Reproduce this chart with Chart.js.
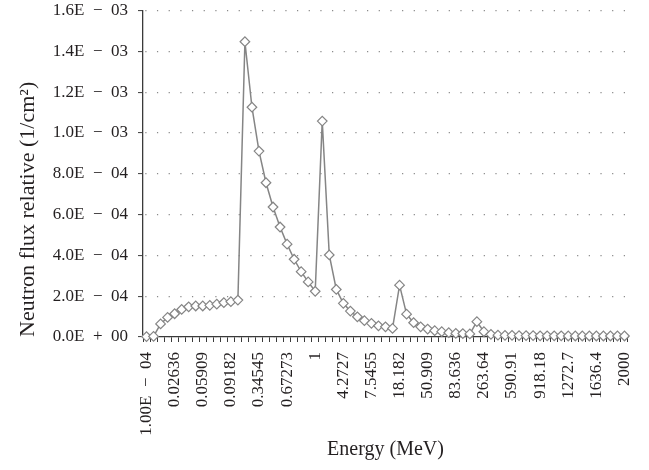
<!DOCTYPE html>
<html lang="en">
<head>
  <meta charset="UTF-8">
  <title>Neutron flux vs energy</title>
  <script src="https://cdn.jsdelivr.net/npm/chart.js"></script>
  <style>
    body { margin: 0; background: #fff; }
    canvas { display: block; }
  </style>
</head>
<body>

<canvas id="fluxChart" width="649" height="470"></canvas>

<script>
// energy bins (MeV), one per point
const energyLabels = [
  '1.00E\u2002\u2212\u200204', '0.001', '0.01', '0.01818', '0.02636', '0.03455', '0.04273', '0.05091',
  '0.05909', '0.06727', '0.07545', '0.08364', '0.09182', '0.1', '0.18182', '0.26364',
  '0.34545', '0.42727', '0.50909', '0.59091', '0.67273', '0.75455', '0.83636', '0.91818',
  '1', '1.8182', '2.6364', '3.4545', '4.2727', '5.0909', '5.9091', '6.7273',
  '7.5455', '8.3636', '9.1818', '10', '18.182', '26.364', '34.545', '42.727',
  '50.909', '59.091', '67.273', '75.455', '83.636', '91.818', '100', '181.82',
  '263.64', '345.45', '427.27', '509.09', '590.91', '672.73', '754.55', '836.36',
  '918.18', '1000', '1090.9', '1181.8', '1272.7', '1363.6', '1454.5', '1545.5',
  '1636.4', '1727.3', '1818.2', '1909.1', '2000'
];

// relative neutron flux (1/cm2)
const fluxValues = [
  0.000002, 0.000003, 0.000064, 0.000096, 0.000114, 0.000135, 0.000148, 0.000152,
  0.000152, 0.000155, 0.000161, 0.000168, 0.000173, 0.000181, 0.001447, 0.001126,
  0.000911, 0.000756, 0.000637, 0.000539, 0.000455, 0.000381, 0.000320, 0.000270,
  0.000224, 0.001058, 0.000402, 0.000233, 0.000165, 0.000127, 0.000099, 0.000080,
  0.000067, 0.000055, 0.000050, 0.000042, 0.000254, 0.000112, 0.000070, 0.000050,
  0.000039, 0.000031, 0.000026, 0.000021, 0.000018, 0.000017, 0.000015, 0.000075,
  0.000026, 0.000013, 0.000009, 0.000008, 0.000008, 0.000007, 0.000007, 0.000007,
  0.000006, 0.000006, 0.000006, 0.000006, 0.000005, 0.000005, 0.000005, 0.000005,
  0.000005, 0.000005, 0.000005, 0.000005, 0.000005
];

const yTickLabels = [
  '0.0E\u2002+\u200200', '2.0E\u2002\u2212\u200204', '4.0E\u2002\u2212\u200204', '6.0E\u2002\u2212\u200204',
  '8.0E\u2002\u2212\u200204', '1.0E\u2002\u2212\u200203', '1.2E\u2002\u2212\u200203', '1.4E\u2002\u2212\u200203',
  '1.6E\u2002\u2212\u200203'
];

const serif = "'Liberation Serif', 'Times New Roman', serif";
const textColor = '#231f20';
const axisColor = '#3a3a3a';
const lineGray = '#858585';

new Chart(document.getElementById('fluxChart'), {
  type: 'line',
  data: {
    labels: energyLabels,
    datasets: [{
      data: fluxValues,
      borderColor: lineGray,
      borderWidth: 1.5,
      tension: 0,
      pointStyle: 'rectRot',
      pointRadius: 4.8,
      pointBorderWidth: 1.2,
      pointBorderColor: lineGray,
      pointBackgroundColor: '#fff',
      clip: false
    }]
  },
  options: {
    responsive: false,
    animation: false,
    layout: { padding: { top: 10.5, right: 21, left: 0, bottom: 0 } },
    plugins: { legend: { display: false }, tooltip: { enabled: false } },
    scales: {
      x: {
        offset: true,
        grid: { offset: true, drawOnChartArea: false, tickLength: 5, tickColor: axisColor, tickWidth: 1 },
        border: { color: axisColor, width: 1.3 },
        ticks: {
          autoSkip: false, minRotation: 90, maxRotation: 90, padding: 10,
          color: textColor, font: { family: serif, size: 17 },
          callback: (v, i) => (i % 4 === 0 ? energyLabels[i] : '')
        },
        title: {
          display: true, text: 'Energy (MeV)', color: textColor,
          font: { family: serif, size: 20 }, padding: { top: 0, bottom: 8 }
        },
        afterFit: s => { s.height = 133; s.paddingLeft = 0; s.paddingRight = 0; }
      },
      y: {
        min: 0,
        max: 0.0016,
        grid: { color: '#8a8a8a', lineWidth: 1.2, tickLength: 5, tickColor: axisColor, tickWidth: 1 },
        border: { color: axisColor, width: 1.3, dash: [1.2, 10.47], dashOffset: -2 },
        ticks: {
          stepSize: 0.0002, padding: 10, color: textColor,
          font: { family: serif, size: 17 },
          callback: (v, i) => yTickLabels[i]
        },
        title: {
          display: true, text: 'Neutron flux relative (1/cm\u00b2)', color: textColor, align: 'start',
          font: { family: serif, size: 22 }, padding: { top: 15, bottom: 0 }
        },
        afterFit: s => { s.width = 143; s.paddingTop = 0; s.paddingBottom = 0; }
      }
    }
  }
});
</script>

</body>
</html>
